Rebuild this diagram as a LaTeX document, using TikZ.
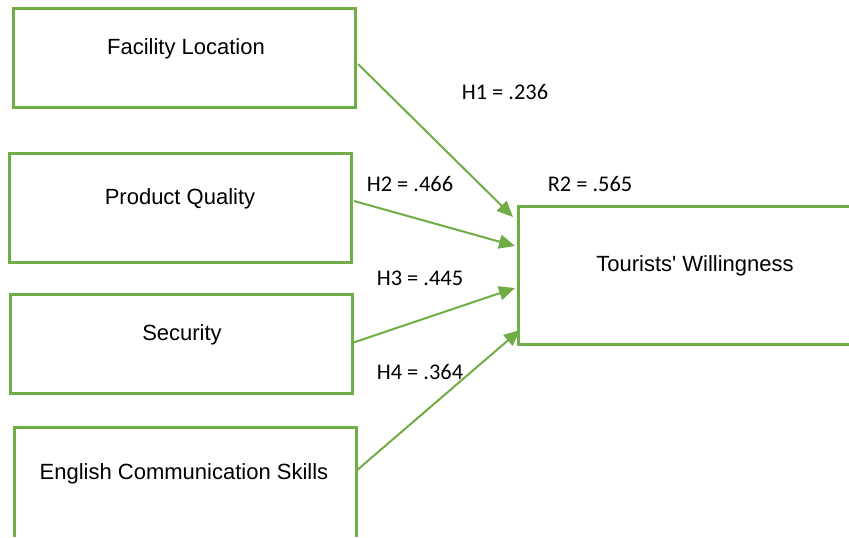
\documentclass[tikz,border=0pt]{standalone}
\usepackage{fontspec}
\setmainfont{Liberation Sans}
\newfontfamily\labelfont{Carlito}
\usetikzlibrary{arrows.meta}
\definecolor{boxgreen}{HTML}{70AD47}
\tikzset{
  frame/.style={draw=boxgreen, line width=1.5pt},
  path arrow/.style={draw=boxgreen, line width=1pt, -{Triangle[length=8pt,width=7pt]}},
  construct/.style={font=\fontsize{11}{13}\selectfont, inner sep=0pt},
  coef/.style={font=\labelfont\fontsize{11.2}{13}\selectfont, inner sep=0pt}
}
\begin{document}
\begin{tikzpicture}[x=0.5pt, y=-0.5pt]
\useasboundingbox (0,0) rectangle (849,537);
% frames of the constructs
\draw [frame] (13,8) rectangle (355,107);
\draw [frame] (9,153) rectangle (351,262);
\draw [frame] (10,294) rectangle (352,393);
\draw [frame] (14,537) -- (14,427) -- (356,427) -- (356,537);
\draw [frame] (849,206) -- (518,206) -- (518,344) -- (849,344);
% texts
\node [construct] (loc) at (186,49) {Facility Location};
\node [construct] (qual) at (180,199) {Product Quality};
\node [construct] (sec) at (182,335) {Security};
\node [construct] (eng) at (184,474) {English Communication Skills};
\node [construct] (will) at (695,266) {Tourists\textquotesingle{} Willingness};
% ends of the paths
\coordinate (loc-out) at (358,64);
\coordinate (qual-out) at (354,201);
\coordinate (sec-out) at (352,343);
\coordinate (eng-out) at (356,471);
\coordinate (will-in1) at (513,217);
\coordinate (will-in2) at (515,246);
\coordinate (will-in3) at (515,288);
\coordinate (will-in4) at (520,330);
\draw [path arrow] (loc-out) -- (will-in1);
\draw [path arrow] (qual-out) -- (will-in2);
\draw [path arrow] (sec-out) -- (will-in3);
\draw [path arrow] (eng-out) -- (will-in4);
% coefficients
\node [coef] (h1) at (505,92) {H1 = .236};
\node [coef] (h2) at (410,184) {H2 = .466};
\node [coef] (r2) at (590,184) {R2 = .565};
\node [coef] (h3) at (420,278) {H3 = .445};
\node [coef] (h4) at (420,372) {H4 = .364};
\end{tikzpicture}
\end{document}
